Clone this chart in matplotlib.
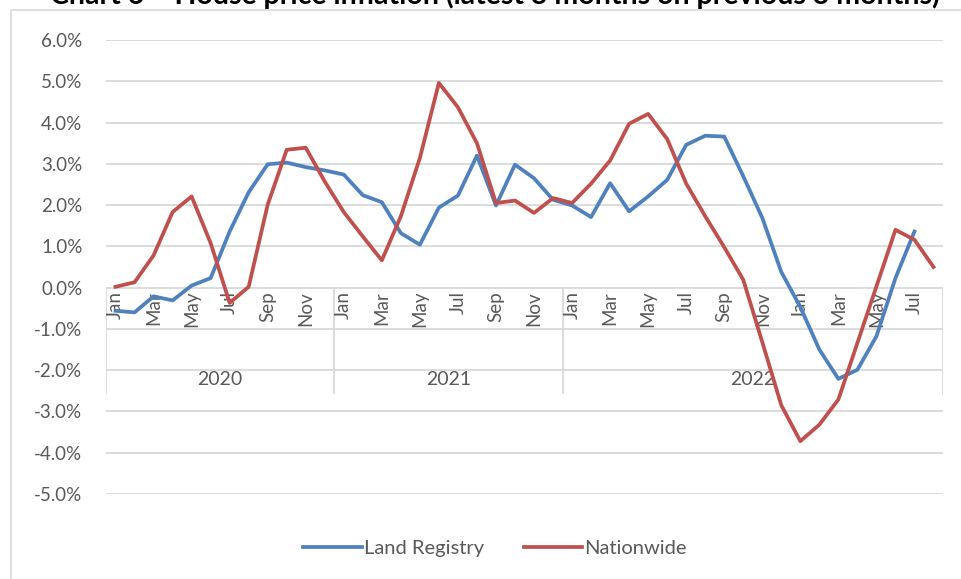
import matplotlib.pyplot as plt
from matplotlib.patches import Rectangle

plt.rcParams['font.family'] = ['Lato', 'DejaVu Sans']

# Jan 2020 .. Aug 2023 (the source sheet groups 2023 months under "2022")
months = ["Jan", "Feb", "Mar", "Apr", "May", "Jun",
          "Jul", "Aug", "Sep", "Oct", "Nov", "Dec"] * 3 + \
         ["Jan", "Feb", "Mar", "Apr", "May", "Jun", "Jul", "Aug"]
years = ["2020", "2021", "2022"]
year_spans = [(0, 12), (12, 24), (24, 44)]

land_registry = [-0.56, -0.60, -0.21, -0.31, 0.05, 0.23, 1.36, 2.31, 2.99, 3.03, 2.92, 2.84,
                 2.74, 2.24, 2.07, 1.32, 1.04, 1.94, 2.23, 3.20, 1.99, 2.98, 2.65, 2.13,
                 1.99, 1.71, 2.53, 1.85, 2.21, 2.61, 3.46, 3.68, 3.66, 2.70, 1.69, 0.38,
                 -0.47, -1.50, -2.21, -1.99, -1.18, 0.23, 1.36]
nationwide = [0.02, 0.13, 0.78, 1.83, 2.21, 1.08, -0.37, 0.02, 2.01, 3.34, 3.39, 2.57,
              1.83, 1.24, 0.66, 1.73, 3.14, 4.96, 4.37, 3.50, 2.05, 2.11, 1.81, 2.17,
              2.05, 2.52, 3.08, 3.97, 4.21, 3.60, 2.52, 1.73, 0.98, 0.19, -1.32, -2.85,
              -3.72, -3.32, -2.71, -1.34, 0.03, 1.40, 1.16, 0.50]
yticks = [-5, -4, -3, -2, -1, 0, 1, 2, 3, 4, 5, 6]

W, H = 961, 579
grey = "#D9D9D9"
txt = "#595959"

fig = plt.figure(figsize=(W / 100, H / 100), dpi=100)
ax = fig.add_axes([106 / W, 1 - 494 / H, (943 - 106) / W, (494 - 40) / H])

# outer chart border (runs off the right and bottom of the crop)
fig.patches.append(Rectangle((11 / W, -0.2), 1.2, 1.2 - 10 / H, transform=fig.transFigure,
                             fill=False, edgecolor=grey, linewidth=1.2, clip_on=False))
fig.text(940 / W, 1 - 4 / H, "Chart 6 \u2013 House price inflation (latest 3 months on previous 3 months)",
         ha="right", va="baseline", fontsize=20.5, fontweight="bold", color="black")

n = len(months)
ax.set_xlim(-0.5, n - 0.5)
ax.set_ylim(-5, 6)
for v in yticks:
    ax.axhline(v, color=grey, linewidth=1.3, zorder=1)
for s in ax.spines.values():
    s.set_visible(False)
ax.set_xticks([])
ax.set_yticks(yticks)
ax.set_yticklabels([f"{v:.1f}%" for v in yticks], fontsize=13.5, color=txt)
ax.tick_params(axis="y", length=0, pad=17)

ax.plot(range(len(land_registry)), land_registry, color="#4F81BD", linewidth=2.7,
        label="Land Registry", zorder=3, solid_joinstyle="round")
ax.plot(range(len(nationwide)), nationwide, color="#C0504D", linewidth=2.7,
        label="Nationwide", zorder=3, solid_joinstyle="round")

# multi-level category axis
for i, m in enumerate(months):
    if i % 2 == 0:
        ax.text(i, -0.08, m, rotation=90, ha="center", va="top", fontsize=13.5,
                color=txt, zorder=2)
for lab, (a, b) in zip(years, year_spans):
    ax.plot([a - 0.5, a - 0.5], [0, -2.55], color=grey, linewidth=1.3, zorder=1)
    ax.text((a + b - 1) / 2, -2.22, lab, ha="center", va="center", fontsize=14,
            color=txt, zorder=2)
ax.plot([n - 0.5, n - 0.5], [0, -2.55], color=grey, linewidth=1.3, zorder=1)

fig.legend(loc="center", bbox_to_anchor=(495 / W, 1 - 548 / H), ncol=2, frameon=False,
           fontsize=14.5, handlelength=2.9, columnspacing=2.0, handletextpad=0.1,
           labelcolor=txt)

fig.savefig("out.png", dpi=100)
